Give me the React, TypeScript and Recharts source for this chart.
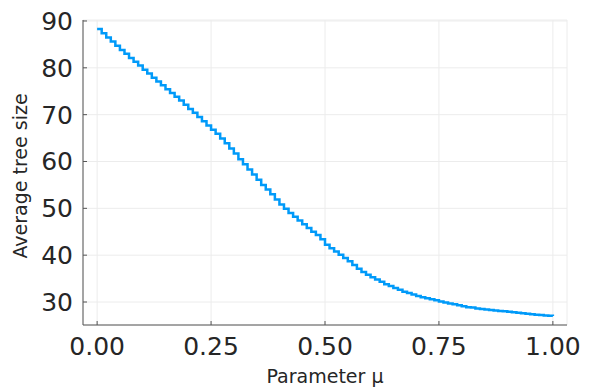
import { CartesianGrid, Label, Line, LineChart, XAxis, YAxis } from "recharts"

const mu = [
  0.0, 0.01, 0.02, 0.03, 0.04, 0.05, 0.06, 0.07, 0.08, 0.09,
  0.1, 0.11, 0.12, 0.13, 0.14, 0.15, 0.16, 0.17, 0.18, 0.19,
  0.2, 0.21, 0.22, 0.23, 0.24, 0.25, 0.26, 0.27, 0.28, 0.29,
  0.3, 0.31, 0.32, 0.33, 0.34, 0.35, 0.36, 0.37, 0.38, 0.39,
  0.4, 0.41, 0.42, 0.43, 0.44, 0.45, 0.46, 0.47, 0.48, 0.49,
  0.5, 0.51, 0.52, 0.53, 0.54, 0.55, 0.56, 0.57, 0.58, 0.59,
  0.6, 0.61, 0.62, 0.63, 0.64, 0.65, 0.66, 0.67, 0.68, 0.69,
  0.7, 0.71, 0.72, 0.73, 0.74, 0.75, 0.76, 0.77, 0.78, 0.79,
  0.8, 0.81, 0.82, 0.83, 0.84, 0.85, 0.86, 0.87, 0.88, 0.89,
  0.9, 0.91, 0.92, 0.93, 0.94, 0.95, 0.96, 0.97, 0.98, 0.99,
  1.0,
]

const treeSize = [
  88.3, 87.4, 86.5, 85.6, 84.7, 83.8, 83.0, 82.1, 81.3, 80.5,
  79.6, 78.8, 77.9, 77.1, 76.3, 75.4, 74.6, 73.8, 73.0, 72.1,
  71.2, 70.4, 69.5, 68.6, 67.7, 66.8, 65.9, 64.9, 63.9, 62.8,
  61.7, 60.5, 59.4, 58.3, 57.2, 56.1, 55.0, 54.0, 53.0, 51.9,
  50.8, 49.9, 49.0, 48.2, 47.4, 46.6, 45.8, 45.0, 44.3, 43.4,
  42.2, 41.5, 40.8, 40.1, 39.4, 38.7, 37.9, 37.1, 36.4, 35.8,
  35.3, 34.8, 34.3, 33.8, 33.4, 33.0, 32.6, 32.2, 31.9, 31.6,
  31.3, 31.0, 30.8, 30.6, 30.4, 30.1, 29.9, 29.7, 29.5, 29.3,
  29.1, 28.9, 28.8, 28.6, 28.5, 28.4, 28.3, 28.2, 28.1, 28.0,
  27.9, 27.8, 27.7, 27.6, 27.5, 27.4, 27.3, 27.2, 27.1, 27.05,
  27.0,
]

const xTicks = [0, 0.25, 0.5, 0.75, 1]
const yTicks = [30, 40, 50, 60, 70, 80, 90]

const data = mu.map((m, i) => ({ mu: m, size: treeSize[i] }))

const font = "DejaVu Sans"
const textColor = "#262626"
const axisColor = "#555555"

export default function App() {
  return (
    <div style={{ position: "absolute", left: 0, top: 0, background: "#fff" }}>
      <LineChart
        width={589}
        height={390}
        data={data}
        margin={{ top: 20, right: 22, left: 0, bottom: 0 }}
      >
        <CartesianGrid stroke="#ececec" strokeWidth={1} />
        <XAxis
          dataKey="mu"
          type="number"
          domain={[-0.031, 1.031]}
          ticks={xTicks}
          tickFormatter={(v) => v.toFixed(2)}
          height={65}
          stroke={axisColor}
          tickSize={-4}
          tickMargin={16}
          tick={{ fontSize: 25, fontFamily: font, fill: textColor }}
          allowDataOverflow
        >
          <Label
            content={() => (
              <text
                x={325}
                y={383}
                textAnchor="middle"
                fontSize={19}
                fontFamily={font}
                fill={textColor}
              >
                Parameter μ
              </text>
            )}
          />
        </XAxis>
        <YAxis
          type="number"
          domain={[25.09, 90.21]}
          ticks={yTicks}
          width={83}
          stroke={axisColor}
          tickSize={-4}
          tickMargin={14}
          tick={{ fontSize: 25, fontFamily: font, fill: textColor }}
          allowDataOverflow
        >
          <Label
            content={() => (
              <text
                x={20}
                y={176}
                transform="rotate(-90 20 176)"
                textAnchor="middle"
                dominantBaseline="central"
                fontSize={19}
                fontFamily={font}
                fill={textColor}
              >
                Average tree size
              </text>
            )}
          />
        </YAxis>
        <Line
          type="stepAfter"
          dataKey="size"
          stroke="#009af9"
          strokeWidth={2.5}
          dot={false}
          isAnimationActive={false}
        />
      </LineChart>
    </div>
  )
}
